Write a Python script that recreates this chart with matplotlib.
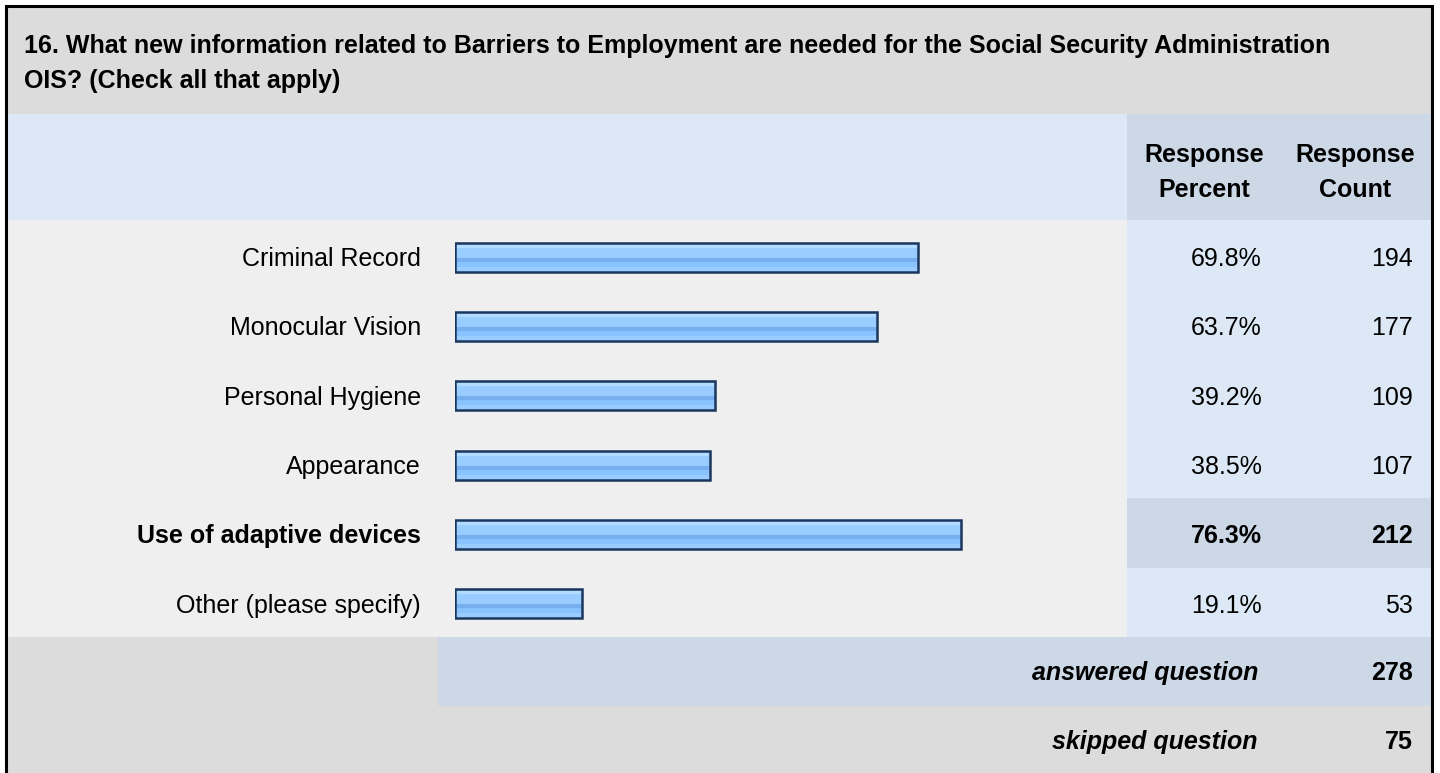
import numpy as np
import matplotlib.pyplot as plt
from matplotlib.patches import Rectangle
from matplotlib.colors import to_rgb

plt.rcParams['font.family'] = ['Liberation Sans', 'DejaVu Sans']

title_lines = ['16. What new information related to Barriers to Employment are needed for the Social Security Administration',
               'OIS? (Check all that apply)']
answers = ['Criminal Record', 'Monocular Vision', 'Personal Hygiene', 'Appearance',
           'Use of adaptive devices', 'Other (please specify)']
percents = [69.8, 63.7, 39.2, 38.5, 76.3, 19.1]
counts = [194, 177, 109, 107, 212, 53]
top_answer = 4  # highlighted row (bold)
answered = 278
skipped = 75

W, H = 1440, 773
fig = plt.figure(figsize=(W / 100, H / 100), dpi=100)

# table background, pixel coords
ax = fig.add_axes([0, 0, 1, 1])
ax.set_xlim(0, W)
ax.set_ylim(H, 0)
ax.axis('off')

grey = '#DCDCDC'
light = '#DCE8F5'
dark = '#CCD8E6'
rowbg = '#EFEFEF'

def cell(x0, y0, x1, y1, c):
    ax.add_patch(Rectangle((x0, y0), x1 - x0, y1 - y0, facecolor=c, edgecolor='none', zorder=0))

cell(5, 5, 1432, 114, grey)
cell(5, 114, 1127, 220, light)
cell(1127, 114, 1432, 220, dark)
row_h = 69.5
for i in range(len(answers)):
    y0 = 220 + i * row_h
    cell(5, y0, 1127, y0 + row_h, rowbg)
    cell(1127, y0, 1432, y0 + row_h, dark if i == top_answer else light)
cell(5, 637, 438, 706, grey)
cell(438, 637, 1432, 706, dark)
cell(5, 706, 1432, H, grey)

# outer frame
ax.plot([5.5, 5.5, 1431.5, 1431.5], [H + 5, 5.5, 5.5, H + 5], color='black', lw=2.2, zorder=5,
        solid_joinstyle='miter')

fs = 18
ax.text(24, 53, title_lines[0], fontsize=fs, fontweight='bold', va='baseline', ha='left')
ax.text(24, 88, title_lines[1], fontsize=fs, fontweight='bold', va='baseline', ha='left')

ax.text(1204, 162, 'Response', fontsize=fs, fontweight='bold', ha='center', va='baseline')
ax.text(1204, 197, 'Percent', fontsize=fs, fontweight='bold', ha='center', va='baseline')
ax.text(1355, 162, 'Response', fontsize=fs, fontweight='bold', ha='center', va='baseline')
ax.text(1355, 197, 'Count', fontsize=fs, fontweight='bold', ha='center', va='baseline')

bar_top = 222.6
bar_step = 69.3
for i, (lab, p, n) in enumerate(zip(answers, percents, counts)):
    yb = bar_top + bar_step * (i + 0.5) + 8.8
    w = 'bold' if i == top_answer else 'normal'
    ax.text(421, yb, lab, fontsize=fs, fontweight=w, ha='right', va='baseline')
    ax.text(1262, yb, f'{p:.1f}%', fontsize=fs, fontweight=w, ha='right', va='baseline')
    ax.text(1413, yb, str(n), fontsize=fs, fontweight=w, ha='right', va='baseline')

ax.text(1258, 680, 'answered question', fontsize=fs, fontweight='bold', style='italic', ha='right', va='baseline')
ax.text(1413, 680, str(answered), fontsize=fs, fontweight='bold', ha='right', va='baseline')
ax.text(1258, 749, 'skipped question', fontsize=fs, fontweight='bold', style='italic', ha='right', va='baseline')
ax.text(1413, 749, str(skipped), fontsize=fs, fontweight='bold', ha='right', va='baseline')

# bars, 0-100 % axis
x0, xw = 455, 663
bax = fig.add_axes([x0 / W, (H - bar_top - 6 * bar_step) / H, xw / W, 6 * bar_step / H])
bax.set_xlim(0, 100)
bax.set_ylim(5.5, -0.5)
bax.axis('off')

stripes = [('#CCE8FF', 2), ('#B3DBFF', 3), ('#99CCFF', 8), ('#77AEEE', 4), ('#88C2FF', 4), ('#99CCFF', 4)]
grad = np.array([to_rgb(c) for c, k in stripes for _ in range(k)])[:, None, :]
bh = 0.42
ypos = np.arange(len(answers))
for y, p in zip(ypos, percents):
    bax.imshow(grad, extent=(0, p, y + bh / 2, y - bh / 2), aspect='auto', interpolation='nearest', zorder=2)
bax.barh(ypos, percents, height=bh, facecolor='none', edgecolor='#1B365D', linewidth=1.8, zorder=3)
bax.set_xlim(0, 100)
bax.set_ylim(5.5, -0.5)

fig.savefig('out.png', dpi=100)
